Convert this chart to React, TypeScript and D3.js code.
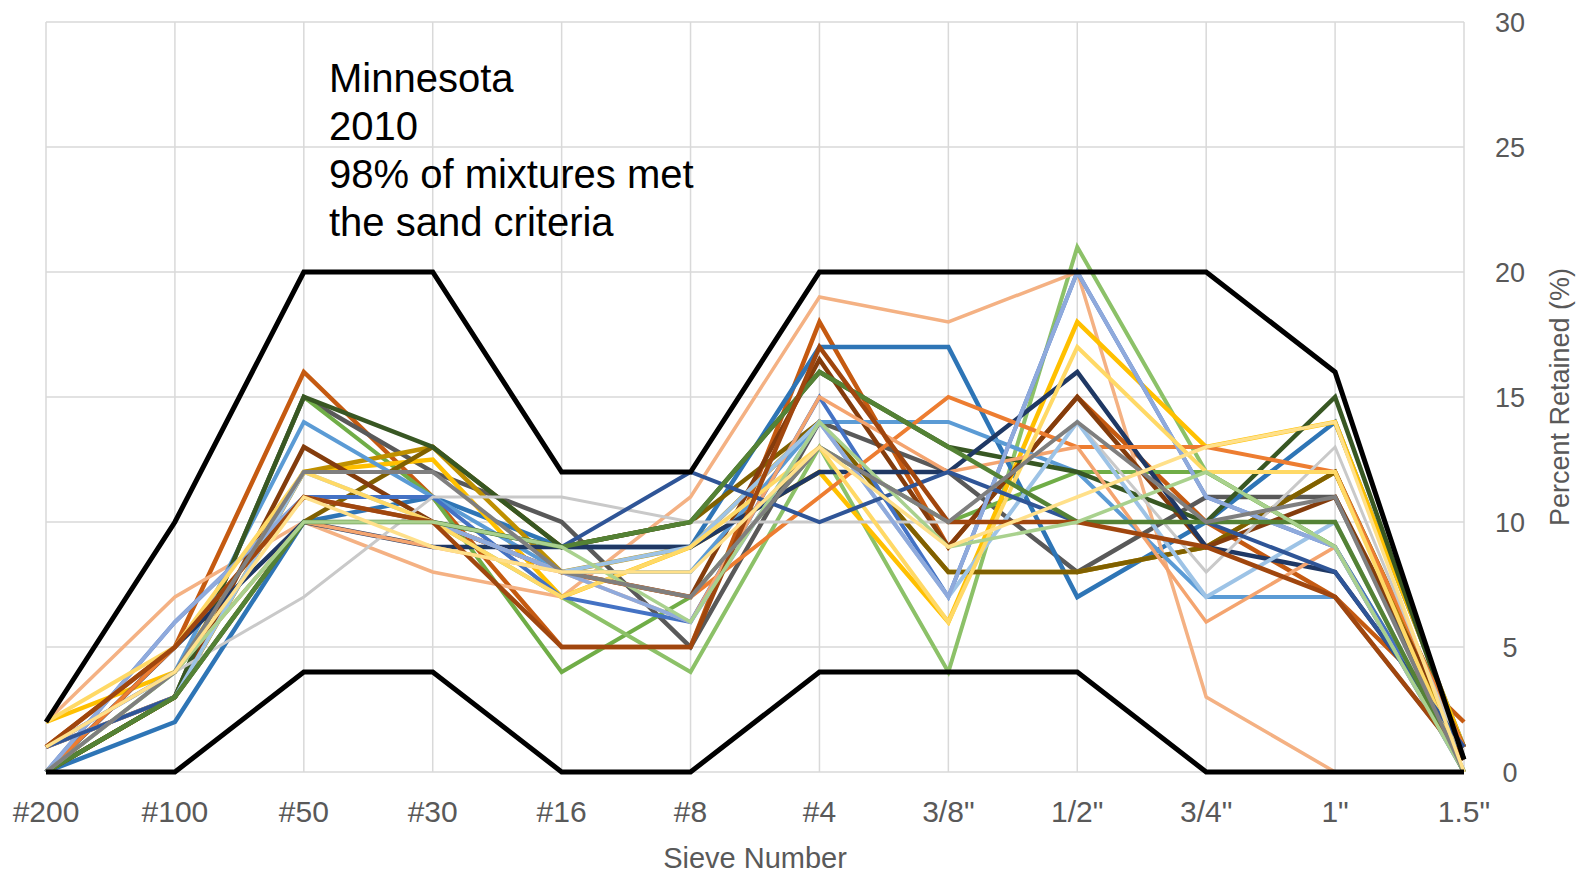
import { useEffect, useRef } from 'react';
import * as d3 from 'd3';

const width = 1579;
const height = 877;
const marginLeft = 46;
const marginRight = 115;
const marginTop = 22;
const marginBottom = 105;

const sieves = ['#200', '#100', '#50', '#30', '#16', '#8', '#4', '3/8"', '1/2"', '3/4"', '1"', '1.5"'];
const yTicks = [0, 5, 10, 15, 20, 25, 30];

// specification limits
const upperLimit = [2, 10, 20, 20, 12, 12, 20, 20, 20, 20, 16, 0.5];
const lowerLimit = [0, 0, 4, 4, 0, 0, 4, 4, 4, 0, 0, 0];

// individual mixtures, percent retained per sieve
const mixA = [1, 5, 16, 11, 5, 5, 18, 9, 15, 10, 7, 2];
const mixB = [0, 3, 15, 12, 10, 5, 14, 12, 8, 11, 11, 0.5];
const mixC = [0, 3, 15, 11, 4, 7, 13, 10, 12, 12, 9, 0];
const mixD = [0, 4, 10, 10, 7, 4, 13, 4, 21, 12, 9, 0.5];
const mixE = [0, 2, 10, 11, 9, 9, 17, 17, 7, 10, 14, 1];
const mixF = [2, 7, 10, 8, 7, 11, 19, 18, 20, 3, 0, 0];
const mixG = [2, 4, 12, 12.5, 7, 9, 12, 6, 18, 13, 14, 1];
const mixH = [0, 3, 12, 13, 8, 9, 14, 8, 8, 9, 12, 0.5];
const mixI = [0, 3, 10, 13, 9, 10, 14, 8, 8, 9, 12, 1];
const mixJ = [1, 3, 13, 10, 8, 7, 16.5, 9, 15, 9, 11, 1];
const mixK = [1, 4, 14, 11, 8, 8, 14, 14, 12, 7, 7, 0.5];
const mixL = [0, 6, 11, 11, 7, 6, 15, 7, 20, 11, 9, 0.5];
const mixM = [0, 3, 15, 13, 9, 10, 16, 13, 12, 10, 15, 0.5];
const mixN = [0, 5, 10, 9, 9, 9, 12, 12, 16, 9, 8, 1];
const mixO = [0, 5, 11, 10, 8, 7, 11, 15, 13, 13, 12, 1];
const mixP = [0, 4, 7, 11, 11, 10, 10, 10, 14, 8, 13, 0.5];
const mixQ = [1, 4, 10, 9, 8, 6, 15, 12, 13, 6, 9, 0];
const mixR = [1, 3, 12, 10, 8, 9, 14, 7, 14, 7, 10, 0];
const mixS = [0, 6, 11, 10, 8, 6, 14, 7, 20, 11, 9, 0];
const mixT = [2, 5, 12, 10, 7, 9, 13, 6, 17, 12, 12, 0];
const mixU = [1, 3, 10, 10, 9, 12, 10, 12, 10, 10, 8, 1];
const mixV = [0, 3, 10, 10, 9, 10, 16, 13, 10, 10, 10, 0];
const mixW = [1, 5, 11, 10, 5, 5, 17, 10, 10, 9, 7, 0.5];
const mixX = [0, 4, 10, 10, 9, 6, 14, 9, 10, 12, 9, 0];
const mixY = [0, 4, 12, 12, 8, 7, 13, 10, 14, 10, 11, 0];
const mixZ = [1, 4, 11, 9, 8, 8, 13, 9, 11, 13, 14, 0];

const mixes = [mixA, mixB, mixC, mixD, mixE, mixF, mixG, mixH, mixI, mixJ, mixK, mixL, mixM,
  mixN, mixO, mixP, mixQ, mixR, mixS, mixT, mixU, mixV, mixW, mixX, mixY, mixZ];

const colors = ['#C55A11', '#595959', '#70AD47', '#8CC168', '#2E75B6', '#F4B183', '#FFC000', '#BF9000',
  '#806000', '#843C0C', '#5B9BD5', '#4472C4', '#385723', '#1F3864', '#ED7D31', '#C9C9C9', '#F4A46F',
  '#9DC3E6', '#8FAADC', '#FFD966', '#2F5597', '#548235', '#A0460E', '#A9D18E', '#7F7F7F', '#FFE08A'];
const widths = [4.5, 4.5, 4, 4, 4.5, 3.5, 4.5, 4.5, 4.5, 4.5, 4, 4, 4.5, 4.5, 4, 3, 3.5,
  4, 4, 4, 4, 4.5, 4.5, 3.5, 4, 3.5];

export default function App() {
  const svgRef = useRef(null);

  useEffect(() => {
    const svg = d3.select(svgRef.current);
    svg.selectAll('*').remove();

    const x = d3.scalePoint().domain(sieves).range([marginLeft, width - marginRight]).padding(0);
    const y = d3.scaleLinear().domain([0, 30]).range([height - marginBottom, marginTop]);

    // grid
    const grid = svg.append('g').attr('stroke', '#D9D9D9').attr('stroke-width', 1.5);
    grid.selectAll('line.h').data(yTicks).join('line')
      .attr('x1', marginLeft).attr('x2', width - marginRight)
      .attr('y1', (d) => y(d)).attr('y2', (d) => y(d));
    grid.selectAll('line.v').data(sieves).join('line')
      .attr('x1', (d) => x(d)).attr('x2', (d) => x(d))
      .attr('y1', y(30)).attr('y2', y(0));

    const line = d3.line<number>()
      .x((d, i) => x(sieves[i]))
      .y((d) => y(d));

    svg.append('g').attr('fill', 'none').attr('stroke-linejoin', 'miter')
      .selectAll('path').data(mixes).join('path')
      .attr('d', (d) => line(d))
      .attr('stroke', (d, i) => colors[i % colors.length])
      .attr('stroke-width', (d, i) => widths[i % widths.length]);

    svg.append('g').attr('fill', 'none').attr('stroke', '#000').attr('stroke-width', 5)
      .selectAll('path').data([upperLimit, lowerLimit]).join('path')
      .attr('d', (d) => line(d));

    // x labels
    svg.append('g').attr('font-family', 'Liberation Sans Narrow, Liberation Sans, sans-serif')
      .attr('font-size', 30).attr('fill', '#595959').attr('text-anchor', 'middle')
      .selectAll('text').data(sieves).join('text')
      .attr('x', (d) => x(d)).attr('y', 822)
      .text((d) => d);

    // y labels (right)
    svg.append('g').attr('font-family', 'Liberation Sans, sans-serif')
      .attr('font-size', 27).attr('fill', '#595959').attr('text-anchor', 'middle')
      .selectAll('text').data(yTicks).join('text')
      .attr('x', 1510).attr('y', (d) => y(d) + 10)
      .text((d) => d);

    svg.append('text')
      .attr('transform', `translate(1569, ${y(15)}) rotate(-90)`)
      .attr('text-anchor', 'middle')
      .attr('font-family', 'Liberation Sans Narrow, Liberation Sans, sans-serif')
      .attr('font-size', 27).attr('fill', '#595959')
      .text('Percent Retained (%)');

    svg.append('text')
      .attr('x', 755).attr('y', 868)
      .attr('text-anchor', 'middle')
      .attr('font-family', 'Liberation Sans Narrow, Liberation Sans, sans-serif')
      .attr('font-size', 29).attr('fill', '#595959')
      .text('Sieve Number');

    const note = ['Minnesota', '2010', '98% of mixtures met', 'the sand criteria'];
    svg.append('g').attr('font-family', 'Liberation Sans, Arial, sans-serif')
      .attr('font-size', 40).attr('fill', '#000')
      .selectAll('text').data(note).join('text')
      .attr('x', 329).attr('y', (d, i) => 92 + i * 48)
      .text((d) => d);
  }, []);

  return (
    <svg
      ref={svgRef}
      width={width}
      height={height}
      style={{ position: 'absolute', left: 0, top: 0, background: '#fff' }}
    />
  );
}
